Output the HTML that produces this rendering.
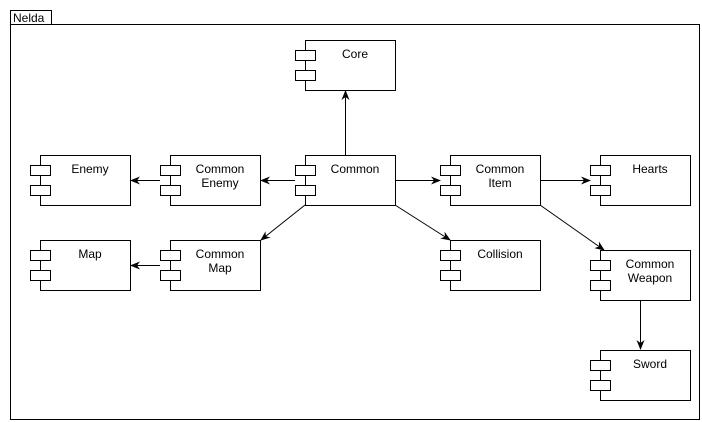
<!DOCTYPE html>
<html><head><style>body{margin:0;background:#fff}svg{display:block}</style></head><body>
<svg width="702" height="422" viewBox="0 0 702 422" xmlns="http://www.w3.org/2000/svg" font-family="Liberation Sans, Arial, sans-serif" font-size="12">
<defs>
<marker id="a" viewBox="0 0 10 10" refX="9" refY="5" markerWidth="10" markerHeight="10" markerUnits="userSpaceOnUse" orient="auto">
<path d="M0,1 L10,5 L0,9 L3,5 Z" fill="#000"/></marker>
</defs>
<rect x="10.5" y="24.5" width="689" height="395" fill="none" stroke="#000"/>
<rect x="10.5" y="10.5" width="41" height="14" fill="#fff" stroke="#000"/>
<text x="13" y="22">Nelda</text>
<g stroke="#000" stroke-width="1" fill="none">
<line x1="345.5" y1="155" x2="345.5" y2="91" marker-end="url(#a)"/>
<line x1="295" y1="180.5" x2="261" y2="180.5" marker-end="url(#a)"/>
<line x1="160" y1="180.5" x2="131" y2="180.5" marker-end="url(#a)"/>
<line x1="395" y1="180.5" x2="440" y2="180.5" marker-end="url(#a)"/>
<line x1="540" y1="180.5" x2="590" y2="180.5" marker-end="url(#a)"/>
<line x1="305" y1="205" x2="261" y2="240" marker-end="url(#a)"/>
<line x1="160" y1="265.5" x2="131" y2="265.5" marker-end="url(#a)"/>
<line x1="395" y1="205" x2="450" y2="240" marker-end="url(#a)"/>
<line x1="540" y1="205" x2="604" y2="250" marker-end="url(#a)"/>
<line x1="640.5" y1="300" x2="640.5" y2="349" marker-end="url(#a)"/>
</g>
<g stroke="#000" fill="#fff">
<rect x="305.5" y="40.5" width="90" height="50"/><rect x="295.5" y="50.5" width="20" height="10"/><rect x="295.5" y="70.5" width="20" height="10"/>
<rect x="305.5" y="155.5" width="90" height="50"/><rect x="295.5" y="165.5" width="20" height="10"/><rect x="295.5" y="185.5" width="20" height="10"/>
<rect x="170.5" y="155.5" width="90" height="50"/><rect x="160.5" y="165.5" width="20" height="10"/><rect x="160.5" y="185.5" width="20" height="10"/>
<rect x="40.5" y="155.5" width="90" height="50"/><rect x="30.5" y="165.5" width="20" height="10"/><rect x="30.5" y="185.5" width="20" height="10"/>
<rect x="170.5" y="240.5" width="90" height="50"/><rect x="160.5" y="250.5" width="20" height="10"/><rect x="160.5" y="270.5" width="20" height="10"/>
<rect x="40.5" y="240.5" width="90" height="50"/><rect x="30.5" y="250.5" width="20" height="10"/><rect x="30.5" y="270.5" width="20" height="10"/>
<rect x="450.5" y="155.5" width="90" height="50"/><rect x="440.5" y="165.5" width="20" height="10"/><rect x="440.5" y="185.5" width="20" height="10"/>
<rect x="450.5" y="240.5" width="90" height="50"/><rect x="440.5" y="250.5" width="20" height="10"/><rect x="440.5" y="270.5" width="20" height="10"/>
<rect x="600.5" y="155.5" width="90" height="50"/><rect x="590.5" y="165.5" width="20" height="10"/><rect x="590.5" y="185.5" width="20" height="10"/>
<rect x="600.5" y="250.5" width="90" height="50"/><rect x="590.5" y="260.5" width="20" height="10"/><rect x="590.5" y="280.5" width="20" height="10"/>
<rect x="600.5" y="350.5" width="90" height="50"/><rect x="590.5" y="360.5" width="20" height="10"/><rect x="590.5" y="380.5" width="20" height="10"/>
</g>
<g text-anchor="middle" fill="#000">
<text x="355" y="58">Core</text>
<text x="355" y="173">Common</text>
<text x="220" y="173">Common</text><text x="220" y="187">Enemy</text>
<text x="90" y="173">Enemy</text>
<text x="220" y="258">Common</text><text x="220" y="272">Map</text>
<text x="90" y="258">Map</text>
<text x="500" y="173">Common</text><text x="500" y="187">Item</text>
<text x="500" y="258">Collision</text>
<text x="650" y="173">Hearts</text>
<text x="650" y="268">Common</text><text x="650" y="282">Weapon</text>
<text x="650" y="368">Sword</text>
</g>
</svg>
</body></html>
